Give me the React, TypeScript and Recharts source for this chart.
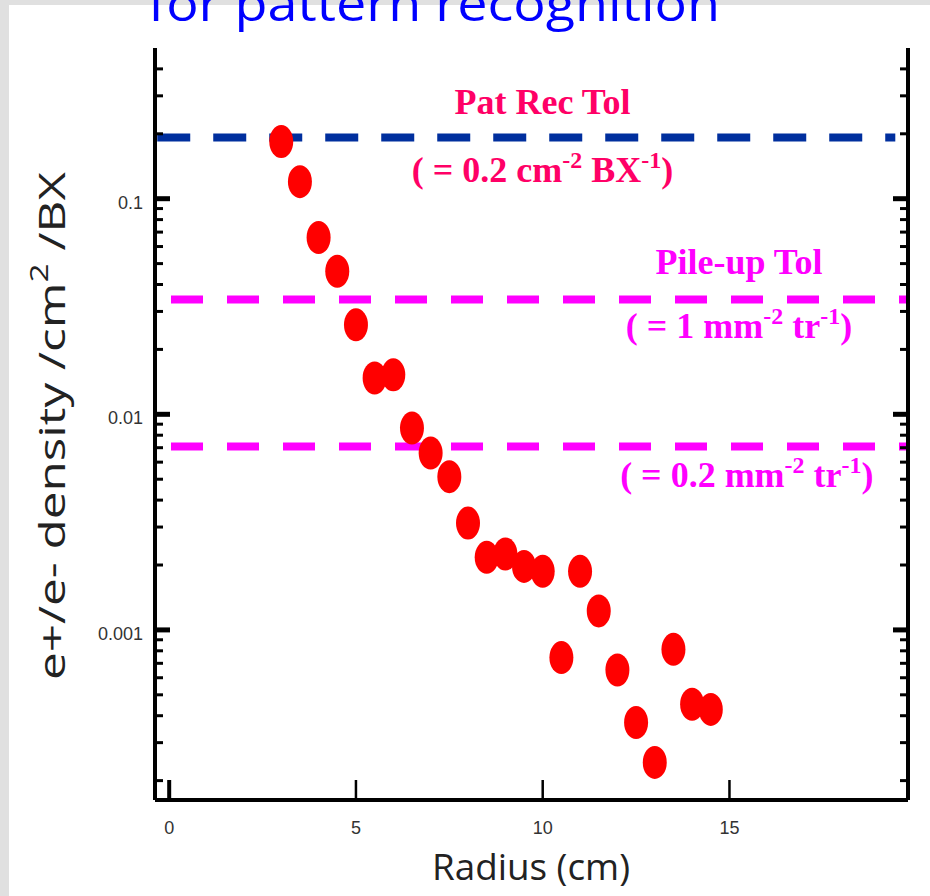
import React from "react";
import { ScatterChart, Scatter, XAxis, YAxis, ReferenceLine } from "recharts";

// radius (cm) vs e+/e- density per cm^2 per bunch crossing
const radius = [3, 3.5, 4, 4.5, 5, 5.5, 6, 6.5, 7, 7.5, 8, 8.5, 9, 9.5, 10, 10.5, 11, 11.5, 12, 12.5, 13, 13.5, 14, 14.5];
const density = [
  0.184, 0.12, 0.0661, 0.0461, 0.026, 0.01473, 0.01525, 0.00863, 0.00661, 0.00514, 0.00313, 0.00217,
  0.00225, 0.00197, 0.00187, 0.000744, 0.00187, 0.001225, 0.000652, 0.000372, 0.000243, 0.000813, 0.000452, 0.000428,
];

const xTicks = [0, 5, 10, 15];
const yMajor = [0.001, 0.01, 0.1];
const yLabels = ["0.001", "0.01", "0.1"];
const yTicks = [
  0.0002, 0.0003, 0.0004, 0.0005, 0.0006, 0.0007, 0.0008, 0.0009,
  0.001, 0.002, 0.003, 0.004, 0.005, 0.006, 0.007, 0.008, 0.009,
  0.01, 0.02, 0.03, 0.04, 0.05, 0.06, 0.07, 0.08, 0.09,
  0.1, 0.2, 0.3, 0.4,
];

const patRecLevel = 0.192;
const pileUpLevel = 0.0341;
const pileUpLowLevel = 0.0071;

const X_DOMAIN: [number, number] = [-0.38, 19.78];
const Y_DOMAIN: [number, number] = [0.0001626, 0.5];

const tickFont = '"Liberation Sans", Arial, sans-serif';
const serif = '"Liberation Serif", "DejaVu Serif", serif';
const comic = '"Comic Sans MS", "Open Sans", sans-serif';

const data = radius.map((r, i) => ({ r, d: density[i] }));

const TickText = ({ x, y, anchor, children }: any) => (
  <text x={x} y={y} textAnchor={anchor} dominantBaseline="central" fontFamily={tickFont} fontSize={18} fill="#333">
    {children}
  </text>
);

const LeftTick = (props: any) => {
  const { x, y, payload } = props;
  const idx = yMajor.indexOf(payload.value);
  const major = idx >= 0;
  return (
    <g>
      <line x1={x} x2={x + (major ? 15 : 8)} y1={y} y2={y} stroke="#000" strokeWidth={major ? 5 : 3} />
      {major ? (
        <TickText x={x - 12} y={y + 4} anchor="end">
          {yLabels[idx]}
        </TickText>
      ) : null}
    </g>
  );
};

const RightTick = (props: any) => {
  const { x, y, payload } = props;
  const major = yMajor.indexOf(payload.value) >= 0;
  return <line x1={x} x2={x - (major ? 15 : 8)} y1={y} y2={y} stroke="#000" strokeWidth={major ? 5 : 3} />;
};

const BottomTick = (props: any) => {
  const { x, y, payload } = props;
  return (
    <g>
      <line x1={x} x2={x} y1={y} y2={y - 20} stroke="#000" strokeWidth={payload.value === 0 ? 4 : 2.5} />
      <TickText x={x} y={y + 28} anchor="middle">
        {payload.value}
      </TickText>
    </g>
  );
};

const TopTick = (props: any) => {
  const { x, y, payload } = props;
  return <line x1={x} x2={x} y1={y} y2={y + 20} stroke="#000" strokeWidth={payload.value === 0 ? 4 : 2.5} />;
};

type Part = [string, boolean];
type AnnotLine = { dy: number; parts: Part[] };

const annotation = (lines: AnnotLine[], frac: number, color: string) => (props: any) => {
  const vb = props.viewBox || {};
  const cx = vb.x + vb.width * frac;
  return (
    <g>
      {lines.map((ln, i) => (
        <text
          key={i}
          x={cx}
          y={vb.y + ln.dy}
          textAnchor="middle"
          fontFamily={serif}
          fontWeight="bold"
          fontSize={36}
          fill={color}
        >
          {ln.parts.map(([t, sup], j) => (
            <tspan key={j} dy={sup ? -14 : j > 0 && ln.parts[j - 1][1] ? 14 : 0} fontSize={sup ? 24 : 36}>
              {t}
            </tspan>
          ))}
        </text>
      ))}
    </g>
  );
};

const patRecLabel = annotation(
  [
    { dy: -24, parts: [["Pat Rec Tol", false]] },
    { dy: 44, parts: [["( = 0.2 cm", false], ["-2", true], [" BX", false], ["-1", true], [")", false]] },
  ],
  0.522,
  "#ff0066"
);

const pileUpLabel = annotation(
  [
    { dy: -25, parts: [["Pile-up Tol", false]] },
    { dy: 39, parts: [["( = 1 mm", false], ["-2", true], [" tr", false], ["-1", true], [")", false]] },
  ],
  0.7756,
  "#ff00ff"
);

const pileUpLowLabel = annotation(
  [{ dy: 41, parts: [["( = 0.2 mm", false], ["-2", true], [" tr", false], ["-1", true], [")", false]] }],
  0.786,
  "#ff00ff"
);

const Dot = (props: any) => <ellipse cx={props.cx} cy={props.cy} rx={12} ry={16.5} fill="#ff0000" />;

export default function App() {
  return (
    <div style={{ position: "absolute", left: 0, top: 0, width: 930, height: 896, background: "#e0e0e0", overflow: "hidden" }}>
      <div style={{ position: "absolute", left: 9, top: 5, width: 921, height: 891, background: "#ffffff" }} />
      <div style={{ position: "absolute", left: 0, top: 0 }}>
        <ScatterChart width={930} height={896} margin={{ top: 48, right: 0, bottom: 0, left: 0 }}>
          <XAxis
            xAxisId="b"
            dataKey="r"
            type="number"
            domain={X_DOMAIN}
            allowDataOverflow
            ticks={xTicks}
            interval={0}
            height={96}
            tickSize={0}
            tickMargin={0}
            tickLine={false}
            axisLine={{ stroke: "#000", strokeWidth: 4 }}
            tick={<BottomTick />}
          />
          <XAxis
            xAxisId="t"
            orientation="top"
            dataKey="r"
            type="number"
            domain={X_DOMAIN}
            allowDataOverflow
            ticks={xTicks}
            interval={0}
            height={0}
            tickSize={0}
            tickMargin={0}
            tickLine={false}
            axisLine={{ stroke: "#000", strokeWidth: 4 }}
            tick={<TopTick />}
          />
          <YAxis
            yAxisId="l"
            dataKey="d"
            type="number"
            scale="log"
            domain={Y_DOMAIN}
            allowDataOverflow
            ticks={yTicks}
            interval={0}
            width={155}
            tickSize={0}
            tickMargin={0}
            tickLine={false}
            axisLine={{ stroke: "#000", strokeWidth: 4 }}
            tick={<LeftTick />}
          />
          <YAxis
            yAxisId="r"
            orientation="right"
            dataKey="d"
            type="number"
            scale="log"
            domain={Y_DOMAIN}
            allowDataOverflow
            ticks={yTicks}
            interval={0}
            width={22}
            tickSize={0}
            tickMargin={0}
            tickLine={false}
            axisLine={{ stroke: "#000", strokeWidth: 4 }}
            tick={<RightTick />}
          />
          <Scatter data={data} xAxisId="b" yAxisId="l" shape={<Dot />} isAnimationActive={false} />
          <ReferenceLine
            xAxisId="b"
            yAxisId="l"
            segment={[
              { x: -0.32, y: patRecLevel },
              { x: 19.44, y: patRecLevel },
            ]}
            stroke="#002f9e"
            strokeWidth={8}
            strokeDasharray="33 23"
            label={patRecLabel}
          />
          <ReferenceLine
            xAxisId="b"
            yAxisId="l"
            y={pileUpLevel}
            stroke="#ff00ff"
            strokeWidth={8}
            strokeDasharray="32 24"
            strokeDashoffset={40}
            label={pileUpLabel}
          />
          <ReferenceLine
            xAxisId="b"
            yAxisId="l"
            y={pileUpLowLevel}
            stroke="#ff00ff"
            strokeWidth={8}
            strokeDasharray="32 24"
            strokeDashoffset={40}
            label={pileUpLowLabel}
          />
        </ScatterChart>
      </div>
      <svg width={930} height={896} style={{ position: "absolute", left: 0, top: 0, pointerEvents: "none" }}>
        <text x={148} y={21} fontFamily={comic} fontSize={48} fill="#0000ff" textLength={572} lengthAdjust="spacingAndGlyphs">
          for pattern recognition
        </text>
        <text
          transform="translate(65,426) rotate(-90)"
          textAnchor="middle"
          fontFamily={comic}
          fontSize={37}
          fill="#222"
          textLength={508}
          lengthAdjust="spacingAndGlyphs"
        >
          e+/e- density /cm
          <tspan dy={-17} fontSize={25}>2</tspan>
          <tspan dy={17}> /BX</tspan>
        </text>
        <text x={531} y={880} textAnchor="middle" fontFamily={comic} fontSize={36} fill="#222" textLength={198} lengthAdjust="spacingAndGlyphs">
          Radius (cm)
        </text>
      </svg>
    </div>
  );
}
